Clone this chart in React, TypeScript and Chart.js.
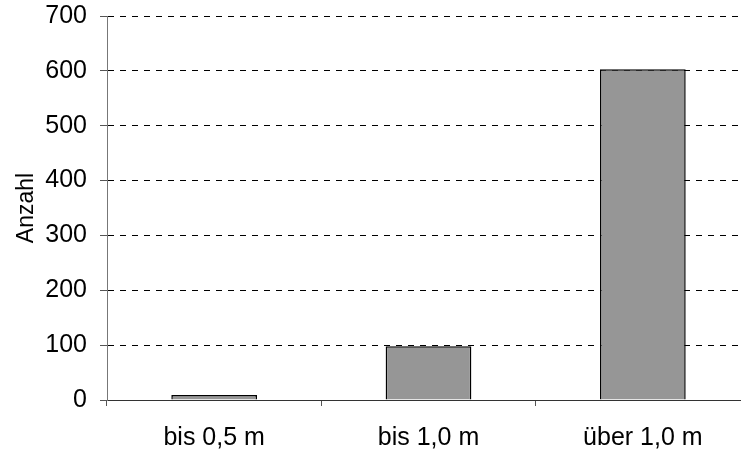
import React, { useEffect, useRef } from "react";
import { Chart, registerables } from "chart.js";

Chart.register(...registerables);

const categories = ["bis 0,5 m", "bis 1,0 m", "über 1,0 m"];
const counts = [9, 98, 603];
const yTicks = [0, 100, 200, 300, 400, 500, 600, 700];

export default function App() {
  const ref = useRef<HTMLCanvasElement | null>(null);
  useEffect(() => {
    document.body.style.margin = "0";
    document.body.style.overflow = "hidden";
    const chart = new Chart(ref.current as HTMLCanvasElement, {
      type: "bar",
      data: {
        labels: categories,
        datasets: [
          {
            data: counts,
            backgroundColor: "#969696",
            borderColor: "#000000",
            borderWidth: 1.5,
            barPercentage: 0.4,
            categoryPercentage: 1,
          },
        ],
      },
      options: {
        animation: false,
        responsive: false,
        devicePixelRatio: 1,
        layout: { padding: { top: 16, right: 0, left: 0, bottom: 0 } },
        plugins: { legend: { display: false }, tooltip: { enabled: false } },
        scales: {
          x: {
            grid: {
              offset: true,
              drawOnChartArea: false,
              drawTicks: true,
              tickLength: 6,
              tickColor: "#555555",
            },
            border: { color: "#333333", width: 1 },
            ticks: {
              color: "#000000",
              font: { family: "Liberation Sans, Arial", size: 25 },
              padding: 17,
            },
            afterFit: (s: any) => {
              s.height = 50;
              s.paddingLeft = 0;
              s.paddingRight = 0;
            },
          },
          y: {
            min: 0,
            max: 700,
            afterBuildTicks: (s: any) => {
              s.ticks = yTicks.map((v) => ({ value: v }));
            },
            grid: {
              color: "#000000",
              lineWidth: 1,
              drawTicks: true,
              tickLength: 7,
              tickColor: "#555555",
              tickBorderDash: [],
            },
            border: { color: "#777777", width: 1, dash: [6, 6] },
            ticks: {
              color: "#000000",
              font: { family: "Liberation Sans, Arial", size: 25 },
              padding: 13,
            },
            title: {
              display: true,
              text: "Anzahl",
              color: "#000000",
              font: { family: "Liberation Sans, Arial", size: 23 },
              padding: { top: 13, bottom: 0 },
            },
            afterFit: (s: any) => {
              s.width = 107;
              s.paddingTop = 0;
              s.paddingBottom = 0;
            },
          },
        },
      },
    });
    return () => chart.destroy();
  }, []);
  return (
    <div style={{ position: "fixed", left: 0, top: 0, width: 741, height: 450, overflow: "hidden" }}>
      <canvas ref={ref} width={750} height={450} style={{ display: "block" }} />
    </div>
  );
}
